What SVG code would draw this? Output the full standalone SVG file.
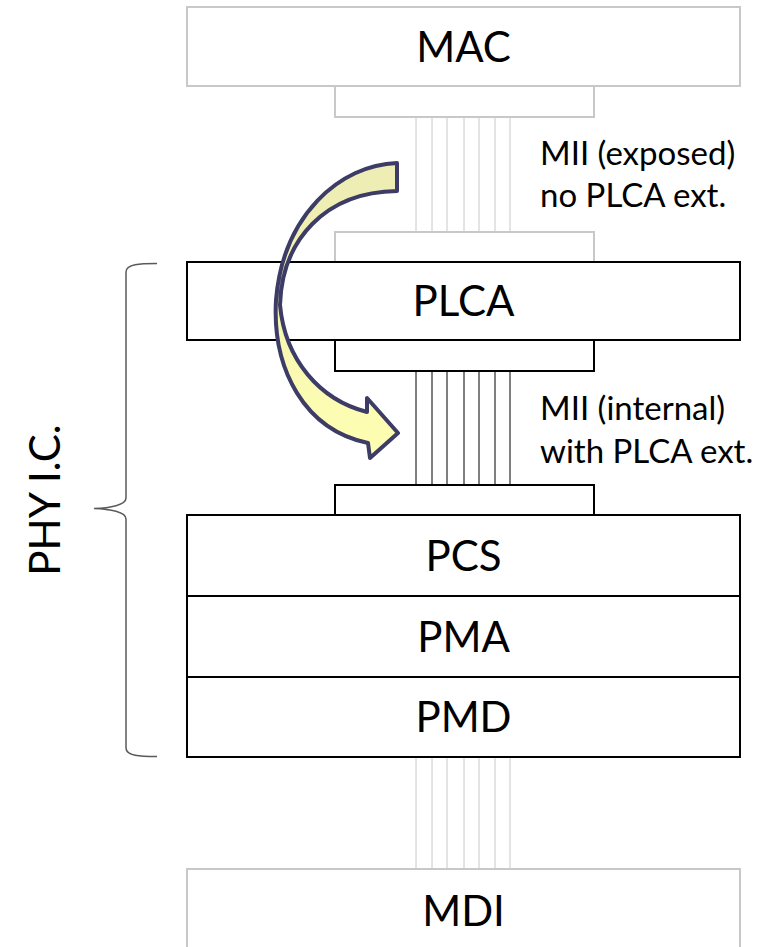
<svg xmlns="http://www.w3.org/2000/svg" width="774" height="947" viewBox="0 0 774 947">
<style>
.gbox{fill:#fff;stroke:#c8c8c8;stroke-width:2}
.bbox{fill:#fff;stroke:#000;stroke-width:2}
.glines line{stroke:#c8c8c8;stroke-width:1}
.blines line{stroke:#000;stroke-width:1}
.big{font-family:Lato,"Open Sans",sans-serif;font-size:42px;fill:#000;text-anchor:middle}
.lbl{font-family:Lato,"Open Sans",sans-serif;font-size:33px;fill:#000}
</style>
<defs>
<linearGradient id="ag" gradientUnits="userSpaceOnUse" x1="0" y1="163" x2="0" y2="460">
<stop offset="0" stop-color="#ececb4"/>
<stop offset="1" stop-color="#ffffb2"/>
</linearGradient>
</defs>
<rect width="774" height="947" fill="#fff"/>
<g id="connectors">
<g class="glines">
<line x1="416" y1="117" x2="416" y2="232"/><line x1="432" y1="117" x2="432" y2="232"/><line x1="447" y1="117" x2="447" y2="232"/><line x1="464" y1="117" x2="464" y2="232"/><line x1="479" y1="117" x2="479" y2="232"/><line x1="495" y1="117" x2="495" y2="232"/><line x1="510" y1="117" x2="510" y2="232"/>
</g>
<g class="blines">
<line x1="416" y1="371" x2="416" y2="485"/><line x1="432" y1="371" x2="432" y2="485"/><line x1="447" y1="371" x2="447" y2="485"/><line x1="464" y1="371" x2="464" y2="485"/><line x1="479" y1="371" x2="479" y2="485"/><line x1="495" y1="371" x2="495" y2="485"/><line x1="510" y1="371" x2="510" y2="485"/>
</g>
<g class="glines">
<line x1="416" y1="757" x2="416" y2="869"/><line x1="432" y1="757" x2="432" y2="869"/><line x1="447" y1="757" x2="447" y2="869"/><line x1="464" y1="757" x2="464" y2="869"/><line x1="479" y1="757" x2="479" y2="869"/><line x1="495" y1="757" x2="495" y2="869"/><line x1="510" y1="757" x2="510" y2="869"/>
</g>
</g>
<g id="mac">
<rect class="gbox" x="187" y="7" width="553" height="79"/>
<text class="big" x="463.5" y="62">MAC</text>
</g>
<g id="mac-port">
<rect class="gbox" x="335" y="86" width="259" height="31"/>
</g>
<g id="plca-port-top">
<rect class="gbox" x="335" y="232" width="259" height="30"/>
</g>
<g id="plca">
<rect class="bbox" x="187" y="262" width="553" height="78"/>
<text class="big" x="463.5" y="316">PLCA</text>
</g>
<g id="plca-port-bottom">
<rect class="bbox" x="335" y="340" width="259" height="31"/>
</g>
<g id="pcs-port">
<rect class="bbox" x="335" y="485" width="259" height="30"/>
</g>
<g id="pcs">
<rect class="bbox" x="187" y="515" width="553" height="81"/>
<text class="big" x="463.5" y="571">PCS</text>
</g>
<g id="pma">
<rect class="bbox" x="187" y="596" width="553" height="81"/>
<text class="big" x="463.5" y="652">PMA</text>
</g>
<g id="pmd">
<rect class="bbox" x="187" y="677" width="553" height="80"/>
<text class="big" x="463.5" y="732">PMD</text>
</g>
<g id="mdi">
<rect class="gbox" x="187" y="869" width="553" height="90"/>
<text class="big" x="463.5" y="926">MDI</text>
</g>
<g id="label-exposed">
<text class="lbl" x="540" y="165">MII (exposed)</text>
<text class="lbl" x="540" y="207">no PLCA ext.</text>
</g>
<g id="label-internal">
<text class="lbl" x="540" y="420">MII (internal)</text>
<text class="lbl" x="540" y="463">with PLCA ext.</text>
</g>
<g id="phy-brace">
<path d="M157,263.5 C140,263.5 126,264 126,272 L126,498 C126,505 110,508 94,508.5 C110,509 126,512 126,519 L126,748 C126,756 140,756.5 157,756.5" fill="none" stroke="#595959" stroke-width="1.5"/>
<text class="big" transform="translate(60,500) rotate(-90)" x="0" y="0">PHY I.C.</text>
</g>
<g id="curved-arrow">
<path d="M397,163 C340,165 283,215 276,300 C272,370 305,430 368,443 L370,458 L398,433 L367,398 L367,412 C320,400 285,360 280,305 C282,240 325,192 397,191 Z" fill="url(#ag)" stroke="#3c3c66" stroke-width="4" stroke-linejoin="round"/>
</g>
</svg>
